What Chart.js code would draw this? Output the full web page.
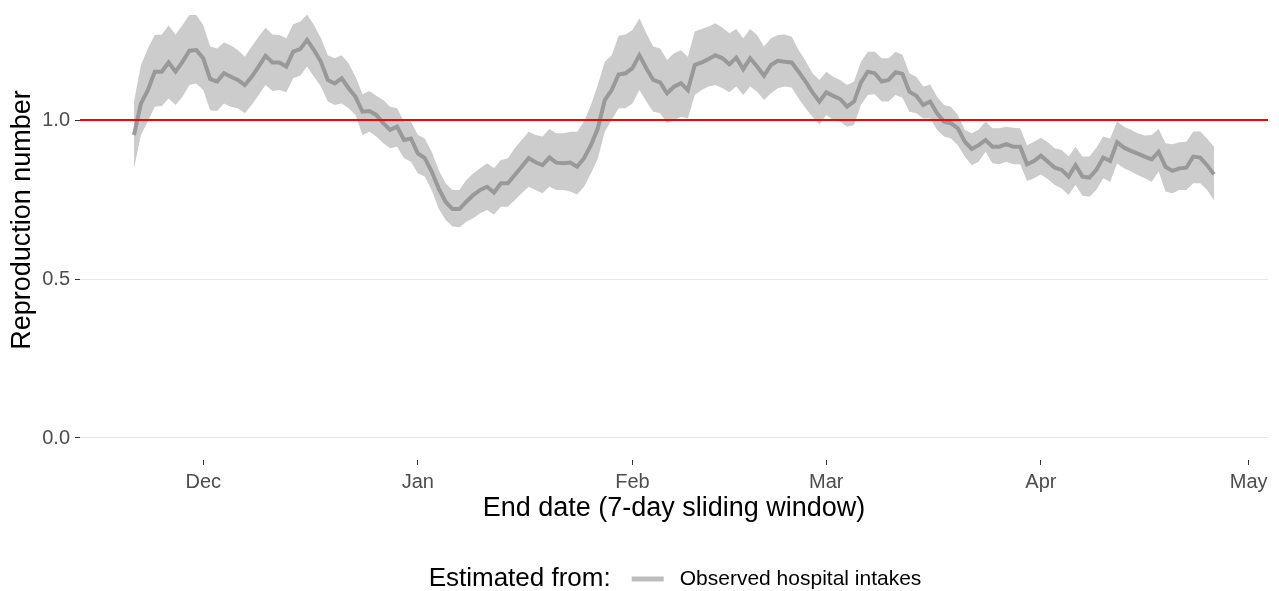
<!DOCTYPE html>
<html>
<head>
<meta charset="utf-8">
<title>Reproduction number</title>
<script src="https://cdn.jsdelivr.net/npm/chart.js@4/dist/chart.umd.min.js"></script>
<style>
  html, body { margin: 0; padding: 0; background: #ffffff; overflow: hidden; }
  #wrap { position: relative; width: 1279px; height: 591px; overflow: hidden; }
  /* the panel runs past the top edge, so the canvas is taller and pulled up */
  #rt { position: absolute; left: 0; top: -20px; }
</style>
</head>
<body>
<div id="wrap"><canvas id="rt" width="1279" height="611"></canvas></div>
<script>
// Daily estimates, first value belongs to startDate, one value per day after that.
const startDate = '2020-11-21';

const rMean = [
  0.953, 1.052, 1.094, 1.152, 1.152, 1.181, 1.152, 1.183, 1.218, 1.220,
  1.194, 1.129, 1.121, 1.147, 1.136, 1.126, 1.110, 1.136, 1.168, 1.202,
  1.181, 1.181, 1.168, 1.215, 1.223, 1.252, 1.220, 1.183, 1.126, 1.115,
  1.131, 1.100, 1.073, 1.026, 1.028, 1.016, 0.990, 0.969, 0.979, 0.937,
  0.942, 0.895, 0.880, 0.838, 0.785, 0.743, 0.720, 0.720, 0.743, 0.764,
  0.780, 0.790, 0.772, 0.801, 0.801, 0.827, 0.853, 0.880, 0.867, 0.858,
  0.882, 0.866, 0.864, 0.866, 0.853, 0.880, 0.921, 0.974, 1.063, 1.094,
  1.143, 1.147, 1.163, 1.204, 1.163, 1.126, 1.118, 1.084, 1.105, 1.116,
  1.094, 1.173, 1.181, 1.192, 1.204, 1.194, 1.175, 1.196, 1.160, 1.194,
  1.168, 1.139, 1.173, 1.186, 1.183, 1.181, 1.152, 1.121, 1.087, 1.058,
  1.087, 1.076, 1.066, 1.042, 1.058, 1.118, 1.152, 1.147, 1.121, 1.126,
  1.150, 1.145, 1.089, 1.076, 1.047, 1.058, 1.021, 0.995, 0.990, 0.974,
  0.932, 0.909, 0.921, 0.937, 0.916, 0.916, 0.924, 0.916, 0.916, 0.861,
  0.871, 0.888, 0.869, 0.850, 0.843, 0.822, 0.858, 0.822, 0.819, 0.843,
  0.882, 0.871, 0.930, 0.913, 0.903, 0.894, 0.885, 0.876, 0.900, 0.853,
  0.840, 0.848, 0.850, 0.885, 0.882, 0.858, 0.829
];

const rLower = [
  0.848, 0.953, 0.995, 1.042, 1.044, 1.068, 1.047, 1.073, 1.110, 1.115,
  1.094, 1.031, 1.028, 1.052, 1.042, 1.037, 1.021, 1.047, 1.079, 1.110,
  1.091, 1.094, 1.087, 1.131, 1.139, 1.168, 1.136, 1.105, 1.058, 1.047,
  1.052, 1.037, 1.016, 0.953, 0.963, 0.948, 0.927, 0.911, 0.916, 0.880,
  0.869, 0.832, 0.822, 0.780, 0.722, 0.686, 0.665, 0.663, 0.680, 0.691,
  0.707, 0.717, 0.703, 0.727, 0.727, 0.748, 0.770, 0.790, 0.780, 0.770,
  0.790, 0.780, 0.780, 0.775, 0.766, 0.790, 0.832, 0.880, 0.963, 1.000,
  1.037, 1.037, 1.052, 1.094, 1.058, 1.026, 1.021, 0.990, 1.000, 1.010,
  1.005, 1.079, 1.094, 1.105, 1.110, 1.100, 1.087, 1.105, 1.079, 1.105,
  1.089, 1.063, 1.084, 1.100, 1.105, 1.102, 1.068, 1.037, 1.010, 0.986,
  1.016, 1.000, 0.995, 0.979, 0.984, 1.047, 1.079, 1.081, 1.058, 1.058,
  1.079, 1.070, 1.026, 1.021, 1.005, 1.005, 0.969, 0.948, 0.942, 0.921,
  0.885, 0.858, 0.869, 0.900, 0.864, 0.861, 0.869, 0.861, 0.861, 0.808,
  0.817, 0.829, 0.814, 0.796, 0.785, 0.764, 0.796, 0.762, 0.759, 0.780,
  0.817, 0.806, 0.863, 0.848, 0.838, 0.827, 0.817, 0.806, 0.838, 0.775,
  0.770, 0.780, 0.780, 0.801, 0.801, 0.780, 0.748
];

const rUpper = [
  1.058, 1.173, 1.225, 1.267, 1.269, 1.297, 1.269, 1.299, 1.330, 1.330,
  1.299, 1.231, 1.225, 1.244, 1.234, 1.220, 1.199, 1.231, 1.262, 1.290,
  1.269, 1.267, 1.257, 1.301, 1.309, 1.332, 1.299, 1.257, 1.204, 1.194,
  1.204, 1.178, 1.136, 1.081, 1.091, 1.076, 1.063, 1.042, 1.037, 0.995,
  0.995, 0.953, 0.942, 0.900, 0.843, 0.801, 0.780, 0.780, 0.811, 0.832,
  0.848, 0.864, 0.848, 0.874, 0.880, 0.911, 0.937, 0.963, 0.953, 0.948,
  0.972, 0.958, 0.958, 0.963, 0.963, 0.995, 1.047, 1.110, 1.183, 1.204,
  1.265, 1.269, 1.283, 1.320, 1.273, 1.231, 1.225, 1.189, 1.210, 1.219,
  1.199, 1.278, 1.286, 1.294, 1.304, 1.290, 1.273, 1.286, 1.257, 1.286,
  1.267, 1.231, 1.257, 1.267, 1.269, 1.262, 1.220, 1.186, 1.147, 1.126,
  1.152, 1.136, 1.126, 1.110, 1.121, 1.183, 1.215, 1.215, 1.194, 1.194,
  1.215, 1.205, 1.147, 1.136, 1.105, 1.112, 1.073, 1.047, 1.042, 1.016,
  0.969, 0.958, 0.969, 0.995, 0.974, 0.974, 0.979, 0.976, 0.974, 0.921,
  0.932, 0.944, 0.930, 0.911, 0.906, 0.885, 0.916, 0.885, 0.885, 0.913,
  0.948, 0.942, 0.995, 0.979, 0.969, 0.958, 0.951, 0.953, 0.972, 0.927,
  0.924, 0.930, 0.932, 0.963, 0.965, 0.942, 0.916
];

const monthStarts = ['2020-12-01', '2021-01-01', '2021-02-01', '2021-03-01', '2021-04-01', '2021-05-01'];
const monthLabels = ['Dec', 'Jan', 'Feb', 'Mar', 'Apr', 'May'];
const yTickValues = [0, 0.5, 1.0];
const threshold = 1;

const seriesName = 'Observed hospital intakes';
const legendTitle = 'Estimated from:';
const xTitle = 'End date (7-day sliding window)';
const yTitle = 'Reproduction number';

// ---- helpers ---------------------------------------------------------------
const FONT = '"Liberation Sans", Arial, "DejaVu Sans", sans-serif';
const TICK_SIZE = 20;
const KEY_TEXT_SIZE = 21;
const TITLE_SIZE = 27;
const DAY_MS = 86400000;
const t0 = Date.parse(startDate + 'T00:00:00Z');
const dayOf = s => Math.round((Date.parse(s + 'T00:00:00Z') - t0) / DAY_MS);
const monthPos = monthStarts.map(dayOf);

const asPoints = arr => arr.map((v, i) => ({ x: i, y: v }));
const lastDay = rMean.length - 1;
const xPad = lastDay * 0.05;          // 5% breathing room at both ends
const xMin = -xPad, xMax = lastDay + xPad;
const yMin = -0.0692, yMax = 1.4403;

// Legend row drawn under the axis: title, line key, series name
const legendRow = {
  id: 'legendRow',
  afterDraw(chart) {
    const { ctx, chartArea } = chart;
    const cy = chart.height - 12;
    ctx.save();
    ctx.textBaseline = 'middle';
    ctx.textAlign = 'left';
    ctx.font = (TITLE_SIZE - 1) + 'px ' + FONT;
    const wTitle = ctx.measureText(legendTitle).width;
    ctx.font = KEY_TEXT_SIZE + 'px ' + FONT;
    const wItem = ctx.measureText(seriesName).width;
    const gap1 = 21, keyLen = 32, gap2 = 16;
    const total = wTitle + gap1 + keyLen + gap2 + wItem;
    let x = (chartArea.left + chartArea.right) / 2 - total / 2 + 1;

    ctx.fillStyle = '#000000';
    ctx.font = (TITLE_SIZE - 1) + 'px ' + FONT;
    ctx.fillText(legendTitle, x, cy);
    x += wTitle + gap1;

    ctx.strokeStyle = '#bebebe';
    ctx.lineWidth = 5;
    ctx.beginPath();
    ctx.moveTo(x, cy);
    ctx.lineTo(x + keyLen, cy);
    ctx.stroke();
    x += keyLen + gap2;

    ctx.font = KEY_TEXT_SIZE + 'px ' + FONT;
    ctx.fillText(seriesName, x, cy);
    ctx.restore();
  }
};

new Chart(document.getElementById('rt'), {
  type: 'line',
  data: {
    datasets: [
      {
        label: 'lower',
        data: asPoints(rLower),
        borderWidth: 0,
        pointRadius: 0,
        fill: false,
        order: 3
      },
      {
        label: 'upper',
        data: asPoints(rUpper),
        borderWidth: 0,
        pointRadius: 0,
        backgroundColor: '#cccccc',
        fill: '-1',
        order: 2
      },
      {
        label: seriesName,
        data: asPoints(rMean),
        borderColor: '#999999',
        borderWidth: 4,
        pointRadius: 0,
        fill: false,
        order: 1
      },
      {
        label: 'threshold',
        data: [{ x: xMin, y: threshold }, { x: xMax, y: threshold }],
        borderColor: '#ff0000',
        borderWidth: 2,
        pointRadius: 0,
        fill: false,
        order: 0
      }
    ]
  },
  options: {
    responsive: false,
    animation: false,
    devicePixelRatio: 1,
    layout: { padding: { top: 0, left: 0, right: 11, bottom: 66 } },
    plugins: {
      legend: { display: false },
      tooltip: { enabled: false }
    },
    scales: {
      x: {
        type: 'linear',
        min: xMin,
        max: xMax,
        afterBuildTicks: s => { s.ticks = monthPos.map(v => ({ value: v })); },
        afterFit: s => { s.height = 65; s.paddingTop = 0; },
        border: { display: false },
        grid: { drawOnChartArea: false, drawTicks: true, tickLength: 5, tickColor: '#333333', tickWidth: 1 },
        ticks: {
          padding: 5,
          color: '#4d4d4d',
          font: { family: FONT, size: TICK_SIZE },
          maxRotation: 0,
          autoSkip: false,
          callback: v => monthLabels[monthPos.indexOf(v)]
        },
        title: {
          display: true,
          text: xTitle,
          color: '#000000',
          font: { family: FONT, size: TITLE_SIZE },
          padding: { top: 0, bottom: 0 }
        }
      },
      y: {
        type: 'linear',
        min: yMin,
        max: yMax,
        afterBuildTicks: s => { s.ticks = yTickValues.map(v => ({ value: v })); },
        afterFit: s => { s.width = 80; s.paddingTop = 0; },
        border: { display: false },
        grid: { color: '#e6e6e6', lineWidth: 1, drawTicks: true, tickLength: 5, tickColor: '#333333', tickWidth: 1 },
        ticks: {
          padding: 5,
          color: '#4d4d4d',
          font: { family: FONT, size: TICK_SIZE },
          callback: v => v.toFixed(1)
        },
        title: {
          display: true,
          text: yTitle,
          color: '#000000',
          font: { family: FONT, size: TITLE_SIZE },
          padding: { top: 6, bottom: 0 }
        }
      }
    }
  },
  plugins: [legendRow]
});
</script>
</body>
</html>
